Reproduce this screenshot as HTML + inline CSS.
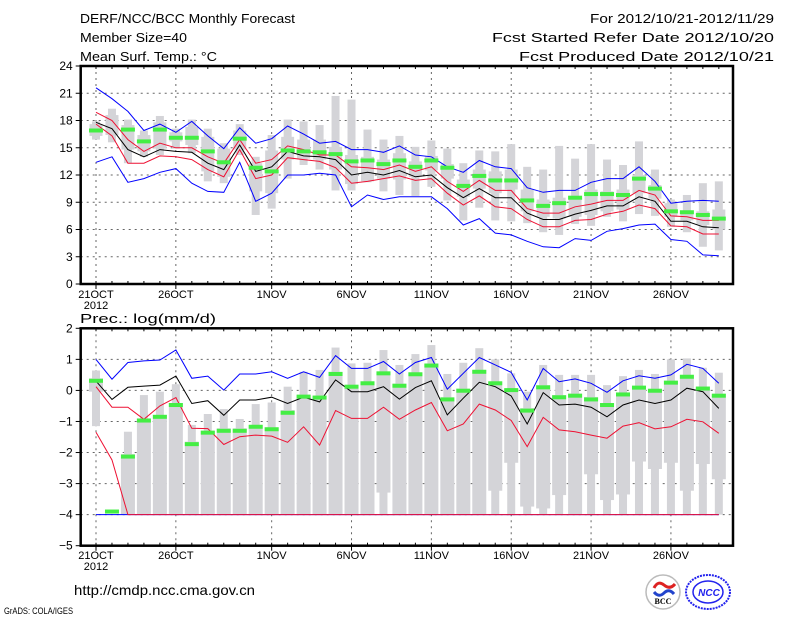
<!DOCTYPE html>
<html><head><meta charset="utf-8"><style>
html,body{margin:0;padding:0;background:#fff;}
svg{display:block;font-family:"Liberation Sans","DejaVu Sans",sans-serif;}
</style></head><body>
<svg id="chart" width="800" height="618" viewBox="0 0 800 618" xmlns="http://www.w3.org/2000/svg">
<rect width="800" height="618" fill="#fff"/>
<g font-size="13" fill="#000">
<text x="80" y="23" textLength="215" lengthAdjust="spacingAndGlyphs">DERF/NCC/BCC Monthly Forecast</text>
<text x="80" y="42" textLength="107" lengthAdjust="spacingAndGlyphs">Member Size=40</text>
<text x="80" y="61" textLength="137" lengthAdjust="spacingAndGlyphs">Mean Surf. Temp.: °C</text>
</g>
<g font-size="13" fill="#000" text-anchor="end">
<text x="774" y="23" textLength="184" lengthAdjust="spacingAndGlyphs">For 2012/10/21-2012/11/29</text>
<text x="774" y="42" textLength="282" lengthAdjust="spacingAndGlyphs">Fcst Started Refer Date 2012/10/20</text>
<text x="774" y="61" textLength="255" lengthAdjust="spacingAndGlyphs">Fcst Produced Date 2012/10/21</text>
</g>
<text x="80" y="323" font-size="13" textLength="136" lengthAdjust="spacingAndGlyphs">Prec.: log(mm/d)</text>
<text x="74" y="595" font-size="14" textLength="181" lengthAdjust="spacingAndGlyphs">http://cmdp.ncc.cma.gov.cn</text>
<text x="4" y="614" font-size="9" textLength="69" lengthAdjust="spacingAndGlyphs">GrADS: COLA/IGES</text>
<g id="top"></g>
<g id="bot"></g>
<g>
<circle cx="663" cy="592" r="17" fill="#fff" stroke="#bbb" stroke-width="1.5"/>
<path d="M654 588 q4 -8 10 -3 q6 5 11 -1" stroke="#d22" stroke-width="3" fill="none"/>
<path d="M654 592 q5 6 10 1 q5 -5 10 1" stroke="#24c" stroke-width="3" fill="none"/>
<text x="663" y="604" font-size="8" text-anchor="middle" font-family="Liberation Serif,serif" font-weight="bold">BCC</text>
</g>
<g>
<ellipse cx="708" cy="592" rx="22" ry="17" fill="#fff" stroke="#22e" stroke-width="2" stroke-dasharray="2 1"/>
<ellipse cx="708" cy="592" rx="15" ry="11" fill="none" stroke="#22e" stroke-width="1.5"/>
<text x="709" y="596" font-size="10" text-anchor="middle" fill="#22e" font-weight="bold" font-style="italic">NCC</text>
</g>
</svg>
<script>
// ---- temperature data (days 0..39 from 21OCT) ----
const tempGreen=[16.9,null,17.0,15.7,17.0,16.1,16.1,14.6,13.4,16.0,12.8,12.4,14.7,14.6,14.5,14.3,13.5,13.6,13.2,13.6,12.9,13.6,12.8,10.8,11.9,11.4,11.4,9.2,8.6,8.9,9.5,9.9,9.9,9.8,11.6,10.5,8.0,7.9,7.6,7.2];
const tempMean=[17.8,17.1,14.8,14.0,14.8,14.6,14.5,13.3,12.6,15.3,12.4,12.9,14.6,14.1,14.0,13.7,12.0,12.3,12.0,12.5,11.8,12.0,10.6,9.5,10.5,9.5,9.5,7.8,7.1,7.1,7.7,8.1,8.6,8.6,9.6,9.1,6.9,6.9,6.3,6.2];
const tempRedHi=[18.9,18.0,15.9,14.6,15.5,15.0,15.0,14.0,13.3,15.9,13.3,13.7,15.2,14.8,14.2,14.2,12.9,12.8,12.6,13.1,12.4,12.9,11.3,10.2,11.4,10.3,10.3,8.3,7.8,7.8,8.5,8.8,9.2,9.2,10.3,9.8,7.5,7.4,7.0,7.0];
const tempRedLo=[17.6,16.3,13.3,13.3,14.1,14.0,13.7,12.6,11.8,14.8,11.6,12.0,13.9,13.7,13.5,12.8,11.1,11.3,11.6,11.9,11.4,11.6,10.0,8.7,9.7,8.5,8.3,7.1,6.3,6.3,7.0,7.1,7.7,8.0,8.7,8.3,6.4,6.3,5.5,5.5];
const tempBlueHi=[21.6,20.4,19.0,16.9,17.6,16.7,17.9,16.3,14.9,17.2,15.5,16.0,17.4,16.5,15.5,15.7,14.8,14.8,14.5,15.2,14.2,14.0,12.9,12.3,13.6,12.9,12.7,10.6,10.1,10.3,10.3,11.2,11.6,11.6,12.9,11.3,8.9,9.1,9.2,9.1];
const tempBlueLo=[13.4,14.0,11.2,11.6,12.3,12.7,11.1,10.2,10.1,13.4,9.1,10.0,12.0,12.0,12.2,12.0,8.5,9.8,9.3,9.6,9.6,9.6,8.3,6.5,7.2,5.6,5.4,4.7,4.1,4.0,5.0,4.8,5.8,6.1,6.5,6.6,4.9,4.7,3.2,3.1];
const tempWhiskHi=[17.9,19.3,18.1,16.9,18.5,17.1,18.1,17.1,15.5,17.6,14.0,16.4,18.1,17.9,17.5,20.7,20.3,17.0,15.9,16.3,15.1,15.8,14.9,13.3,14.7,14.6,15.4,12.9,12.6,15.2,13.8,15.4,13.7,13.1,15.7,12.6,9.3,9.8,11.1,11.3];
const tempWhiskLo=[15.9,15.6,13.3,14.0,14.2,14.9,14.4,11.3,11.1,14.2,7.6,8.3,11.6,13.1,12.6,10.3,10.3,11.2,10.2,9.8,9.7,10.7,9.2,7.0,8.4,7.0,6.9,6.7,5.7,5.4,6.6,6.4,7.4,6.9,7.7,7.5,6.3,5.7,4.1,3.7];
const tempBoxHi=[17.6,18.6,17.5,16.4,17.8,16.7,17.3,16.2,14.9,16.9,13.3,14.7,16.2,15.9,15.9,15.1,14.2,14.0,13.7,14.4,13.5,14.1,13.2,11.5,12.6,12.4,12.6,10.4,9.3,9.5,9.7,10.4,10.2,10.4,12.0,10.9,8.9,8.0,8.0,8.2];
const tempBoxLo=[16.3,16.4,14.8,14.6,14.9,15.7,15.3,12.4,11.8,14.8,10.2,10.0,13.7,13.8,13.7,12.6,11.0,11.3,11.6,11.5,11.8,12.5,11.6,9.6,10.5,10.0,10.4,8.0,7.4,7.2,7.4,7.6,8.0,8.2,10.0,9.4,7.4,7.0,6.5,6.0];
// ---- precipitation data ----
const precGreen=[0.31,-3.9,-2.13,-0.97,-0.85,-0.47,-1.73,-1.36,-1.3,-1.3,-1.17,-1.25,-0.72,-0.2,-0.23,0.53,0.12,0.23,0.55,0.15,0.52,0.8,-0.29,-0.01,0.6,0.23,0.01,-0.65,0.1,-0.22,-0.17,-0.29,-0.47,-0.13,0.09,-0.01,0.25,0.44,0.06,-0.17];
const precMean=[0.30,-0.29,0.1,0.14,0.17,0.46,-0.42,-0.33,-0.8,-0.31,-0.31,-0.22,-0.42,-0.22,-0.37,0.34,-0.04,-0.04,0.12,-0.28,0.09,0.31,-0.79,-0.25,0.26,0.12,-0.18,-1.08,-0.07,-0.47,-0.44,-0.54,-0.85,-0.47,-0.31,-0.42,-0.31,0.07,-0.04,-0.58];
const precRedHi=[0.12,-0.54,-0.54,-0.93,-0.5,-0.23,-1.22,-1.23,-1.74,-1.49,-1.44,-1.47,-1.67,-1.17,-1.76,-0.65,-0.9,-0.9,-0.54,-0.93,-0.63,-0.39,-1.3,-1.08,-0.44,-0.63,-0.97,-1.81,-0.87,-1.27,-1.33,-1.44,-1.54,-1.15,-1.04,-1.24,-1.17,-0.93,-1.01,-1.38];
const precRedLo=[-1.35,-2.24,-4,-4,-4,-4,-4,-4,-4,-4,-4,-4,-4,-4,-4,-4,-4,-4,-4,-4,-4,-4,-4,-4,-4,-4,-4,-4,-4,-4,-4,-4,-4,-4,-4,-4,-4,-4,-4,-4];
const precBlueHi=[1.0,0.36,0.9,0.95,0.98,1.3,0.39,0.46,0.01,0.53,0.53,0.6,0.39,0.6,0.42,1.12,0.71,0.71,0.93,0.53,0.9,1.06,0.04,0.55,1.06,0.82,0.58,-0.31,0.71,0.28,0.37,0.23,-0.06,0.31,0.47,0.39,0.5,0.84,0.71,0.23];
const precBlueLo=[-4,-4,-4,-4,-4,-4,-4,-4,-4,-4,-4,-4,-4,-4,-4,-4,-4,-4,-4,-4,-4,-4,-4,-4,-4,-4,-4,-4,-4,-4,-4,-4,-4,-4,-4,-4,-4,-4,-4,-4];
const precWhiskHi=[0.64,null,-1.33,-0.15,-0.04,0.2,-1.11,-0.76,-0.6,-0.92,-0.44,-0.39,0.12,0.6,0.66,1.38,0.87,0.89,1.3,0.82,1.17,1.46,0.53,0.89,1.36,1.0,0.55,-0.04,0.82,0.5,0.5,0.5,0.17,0.46,0.66,0.53,1.0,1.03,0.73,0.57];
const precWhiskLo=[-1.15,null,-4,-4,-4,-4,-4,-4,-4,-4,-4,-4,-4,-4,-4,-4,-4,-4,-4,-4,-4,-4,-4,-4,-4,-4,-4,-4,-4,-4,-4,-4,-4,-4,-4,-4,-4,-4,-4,-4];
const precBoxHi=[0.39,null,-2.05,-0.9,-0.79,-0.41,-1.65,-1.3,-1.22,-1.22,-1.12,-1.19,-0.63,-0.15,-0.18,0.6,0.17,0.28,0.6,0.22,0.57,0.87,-0.22,0.06,0.66,0.28,0.06,-0.57,0.17,-0.15,-0.1,-0.21,-0.41,-0.07,0.14,0.03,0.31,0.49,0.12,-0.11];
const precBoxLo=[-0.04,null,-4,-4,-4,-4,-4,-4,-4,-4,-4,-4,-4,-4,-4,-4,-4,-4,-3.29,-4,-4,-4,-4,-4,-4,-3.23,-2.33,-3.74,-3.8,-3.37,-4,-2.7,-3.53,-3.35,-2.29,-2.53,-2.33,-3.23,-2.37,-2.86];
const xLabels=["21OCT","26OCT","1NOV","6NOV","11NOV","16NOV","21NOV","26NOV"];
const tempTicks=[0,3,6,9,12,15,18,21,24];
const precTicks=[-5,-4,-3,-2,-1,0,1,2];

const NS="http://www.w3.org/2000/svg";
const X0=80.7,X1=733;
function xs(d){return 96+d*15.97;}
function mk(parent,tag,attrs){const e=document.createElementNS(NS,tag);for(const k in attrs)e.setAttribute(k,attrs[k]);parent.appendChild(e);return e;}

function panel(g,yTop,yBot,vMin,vMax,ticks,gridVals,lbY,series,boxW,name){
  const ys=v=>yBot-(v-vMin)/(vMax-vMin)*(yBot-yTop);
  gridVals.forEach(v=>{const l=mk(g,'line',{x1:X0,x2:X1,y1:ys(v),y2:ys(v),stroke:'#666','stroke-width':1,'stroke-dasharray':'2 4'});
    
    });
  for(let i=0;i<xLabels.length;i++){const x=xs(i*5+(i>=2?1:0));
    const l=mk(g,'line',{x1:x,x2:x,y1:yTop,y2:yBot,stroke:'#666','stroke-width':1,'stroke-dasharray':'2 4'});
    
    }
  for(let d=0;d<40;d++){
    const x=xs(d);
    if(series.wh[d]!=null){const r=mk(g,'rect',{x:x-4,width:8,y:ys(series.wh[d]),height:Math.max(0,ys(series.wl[d])-ys(series.wh[d])),fill:'#d4d4d8'});
      
      }
    if(series.bh[d]!=null){const r=mk(g,'rect',{x:x-boxW/2,width:boxW,y:ys(series.bh[d]),height:Math.max(0,ys(series.bl[d])-ys(series.bh[d])),fill:'#d4d4d8'});
      
      }
  }
  const line=(arr,col,nm)=>{const pts=arr.map((v,d)=>xs(d).toFixed(1)+','+ys(v).toFixed(1)).join(' ');
    const p=mk(g,'polyline',{points:pts,fill:'none',stroke:col,'stroke-width':1});
    
    };
  line(series.blo,'#0000ff','blue-lower-line');line(series.bhi,'#0000ff','blue-upper-line');
  line(series.rlo,'#ee1133','red-lower-line');line(series.rhi,'#ee1133','red-upper-line');
  line(series.mean,'#000','ensemble-mean-line');
  for(let d=0;d<40;d++){if(series.green[d]==null)continue;
    const r=mk(g,'rect',{x:xs(d)-7,width:14,y:ys(series.green[d])-2,height:4,fill:'#44ee44'});
    
    }
  const f=mk(g,'rect',{x:X0,y:yTop,width:X1-X0,height:yBot-yTop,fill:'none',stroke:'#000','stroke-width':2.5});
  
  
  for(let d=0;d<=40;d++){const x=xs(d);if(x>X1)break;
    mk(g,'line',{x1:x,x2:x,y1:yTop,y2:yTop+3,stroke:'#000'});mk(g,'line',{x1:x,x2:x,y1:yBot,y2:yBot-3,stroke:'#000'});}
  ticks.forEach(v=>{mk(g,'line',{x1:X0-5,x2:X0,y1:ys(v),y2:ys(v),stroke:'#000'});
    const t=mk(g,'text',{x:X0-8,y:ys(v)+4,'font-size':12,'text-anchor':'end'});t.textContent=String(v).replace('-','\u2212');
    
    });
  xLabels.forEach((s,i)=>{const x=xs(i*5+(i>=2?1:0));
    mk(g,'line',{x1:x,x2:x,y1:yBot,y2:yBot+5,stroke:'#000'});
    const t=mk(g,'text',{x:x,y:lbY,'font-size':11,'text-anchor':'middle'});t.textContent=s;
    
    });
  const yr=mk(g,'text',{x:96,y:lbY+11,'font-size':11,'text-anchor':'middle'});yr.textContent='2012';
  
  
}
panel(document.getElementById('top'),66,284,0,24,tempTicks,[3,6,9,12,15,18,21],298,
 {wh:tempWhiskHi,wl:tempWhiskLo,bh:tempBoxHi,bl:tempBoxLo,blo:tempBlueLo,bhi:tempBlueHi,rlo:tempRedLo,rhi:tempRedHi,mean:tempMean,green:tempGreen},13,'temperature');
panel(document.getElementById('bot'),328.3,545.7,-5,2,precTicks,[-4,-3,-2,-1,0,1],559,
 {wh:precWhiskHi,wl:precWhiskLo,bh:precBoxHi,bl:precBoxLo,blo:precBlueLo,bhi:precBlueHi,rlo:precRedLo,rhi:precRedHi,mean:precMean,green:precGreen},14,'precipitation');
</script>
</body></html>
